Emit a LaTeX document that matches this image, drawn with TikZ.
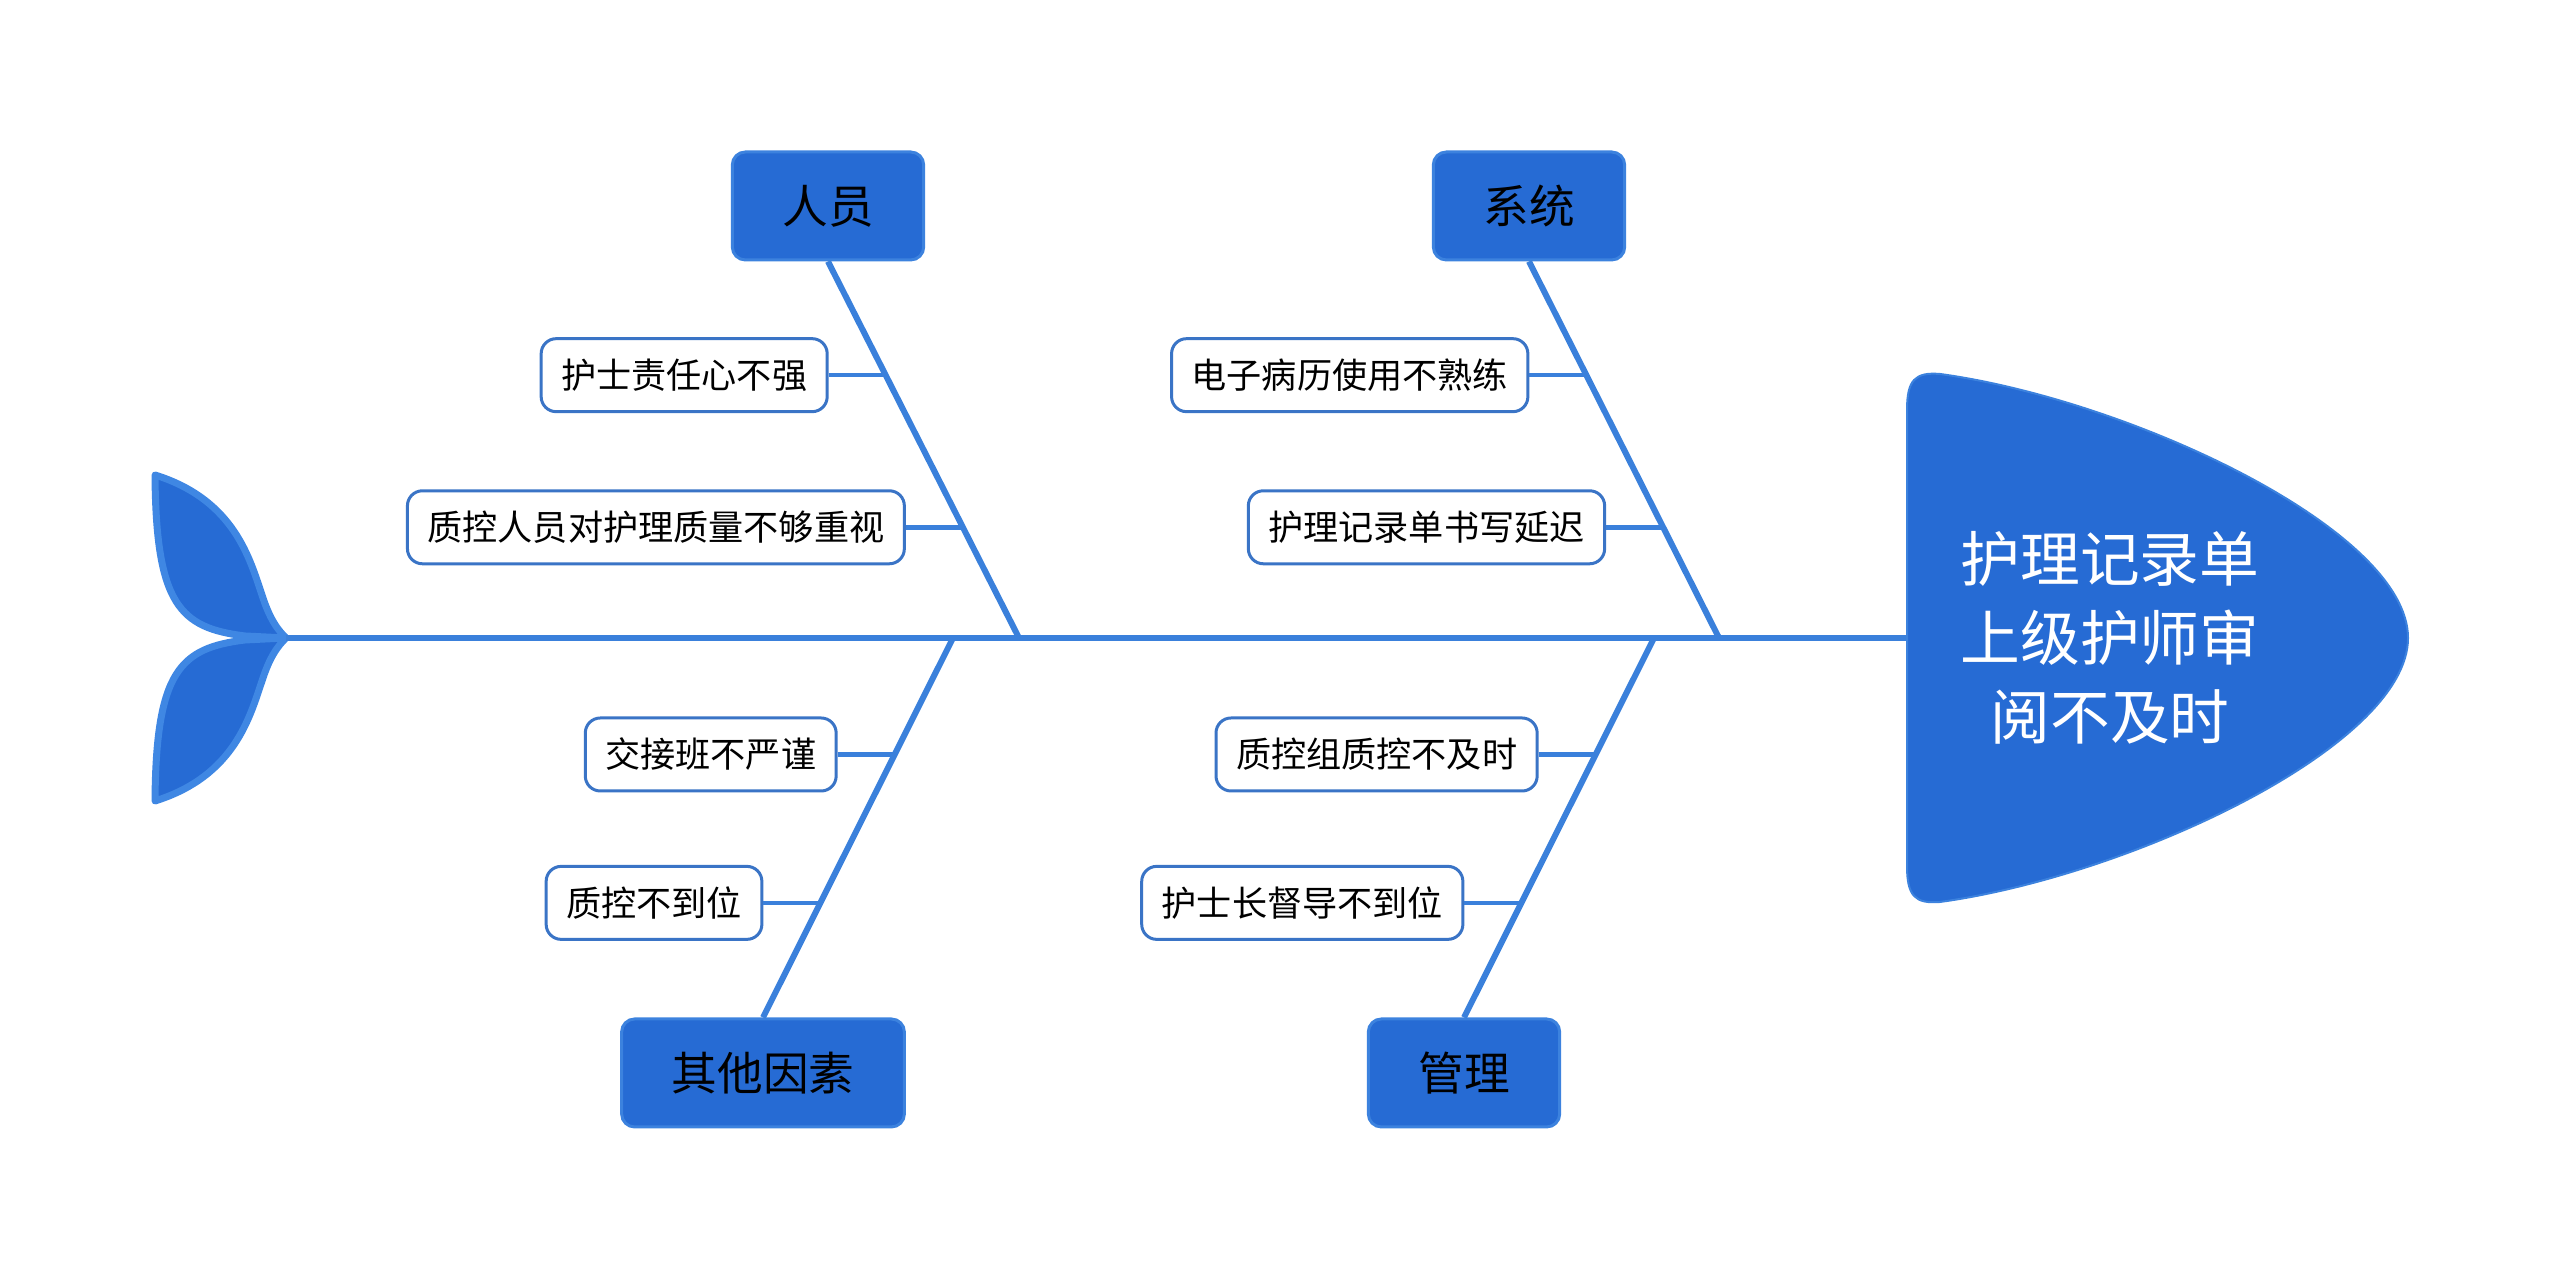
\documentclass[tikz,border=0pt]{standalone}
\usepackage{fontspec}
\newfontfamily\cjk{Noto Sans CJK SC}
\usetikzlibrary{positioning,calc}
\definecolor{boneblue}{HTML}{3A80DB}
\definecolor{capblue}{HTML}{266BD4}
\definecolor{capedge}{HTML}{3C82DE}
\definecolor{leafedge}{HTML}{3A74C6}
\definecolor{finedge}{HTML}{3F87E3}

\begin{document}
\begin{tikzpicture}[node distance=5.7mm,
    cause/.style={draw=capedge, fill=capblue, line width=0.3mm, rounded corners=1.3mm, minimum width=19.1mm, minimum height=10.8mm, inner xsep=5mm, font=\cjk\fontsize{13}{13}\selectfont},
    detail/.style={draw=leafedge, fill=white, line width=0.3mm, rounded corners=1.5mm, minimum height=7.3mm, inner xsep=2mm, font=\cjk\fontsize{10}{10}\selectfont},
    bone/.style={draw=boneblue, line width=0.6mm},
    twig/.style={draw=boneblue, line width=0.45mm}]
  \useasboundingbox (0,0) rectangle (25.6,12.8);
  % tail
  \foreach \s in {1,-1}
    \draw[fill=capblue, draw=finedge, line width=0.7mm, line join=round, shift={(0,6.42)}, yscale=\s]
      (2.86,0) .. controls (2.78,0.08) and (2.7,0.18) .. (2.62,0.43)
      .. controls (2.5,0.78) and (2.35,1.38) .. (1.55,1.63)
      .. controls (1.56,0.33) and (1.8,0.10) .. (2.45,0.02) -- cycle;
  % spine
  \coordinate (tail) at (2.86,6.42);
  \coordinate (head) at (19.07,6.42);
  \draw[bone] (tail) -- (head);
  % head
  \draw[fill=capblue, draw=capedge, line width=0.2mm]
    (19.07,6.42) -- (19.07,8.70) .. controls (19.07,9.0) and (19.15,9.08) .. (19.40,9.06)
    .. controls (21.3,8.8) and (24.08,7.5) .. (24.08,6.42)
    .. controls (24.08,5.34) and (21.3,4.04) .. (19.40,3.78)
    .. controls (19.15,3.76) and (19.07,3.84) .. (19.07,4.14) -- cycle;
  \node[text=white, align=center, font=\cjk\fontsize{17}{22.5}\selectfont] (wenti) at (21.10,6.42) {护理记录单\\上级护师审\\阅不及时};
  % causes
  \node[cause] (renyuan) at (8.28,10.74) {人员};
  \node[cause] (xitong) at (15.29,10.74) {系统};
  \node[cause] (qita) at (7.63,2.07) {其他因素};
  \node[cause] (guanli) at (14.64,2.07) {管理};
  \coordinate (r1) at (10.19,6.42);
  \coordinate (x1) at (17.19,6.42);
  \coordinate (q1) at (9.53,6.42);
  \coordinate (g1) at (16.54,6.42);
  \draw[bone] (renyuan.south) -- (r1);
  \draw[bone] (xitong.south) -- (x1);
  \draw[bone] (qita.north) -- (q1);
  \draw[bone] (guanli.north) -- (g1);
  % details
  \coordinate (b1) at ($(renyuan.south)!0.302!(r1)$);
  \coordinate (b2) at ($(renyuan.south)!0.706!(r1)$);
  \coordinate (b3) at ($(xitong.south)!0.302!(x1)$);
  \coordinate (b4) at ($(xitong.south)!0.706!(x1)$);
  \coordinate (b5) at ($(qita.north)!0.693!(q1)$);
  \coordinate (b6) at ($(qita.north)!0.302!(q1)$);
  \coordinate (b7) at ($(guanli.north)!0.693!(g1)$);
  \coordinate (b8) at ($(guanli.north)!0.302!(g1)$);
  \node[detail, left=of b1] (zeren) {护士责任心不强};
  \node[detail, left=of b2] (zhongshi) {质控人员对护理质量不够重视};
  \node[detail, left=of b3] (dianzi) {电子病历使用不熟练};
  \node[detail, left=of b4] (yanchi) {护理记录单书写延迟};
  \node[detail, left=of b5] (jiaojie) {交接班不严谨};
  \node[detail, left=of b6] (zhikong) {质控不到位};
  \node[detail, left=of b7] (jishi) {质控组质控不及时};
  \node[detail, left=of b8] (dudao) {护士长督导不到位};
  \draw[twig] (zeren.east) -- (b1);
  \draw[twig] (zhongshi.east) -- (b2);
  \draw[twig] (dianzi.east) -- (b3);
  \draw[twig] (yanchi.east) -- (b4);
  \draw[twig] (jiaojie.east) -- (b5);
  \draw[twig] (zhikong.east) -- (b6);
  \draw[twig] (jishi.east) -- (b7);
  \draw[twig] (dudao.east) -- (b8);
\end{tikzpicture}
\end{document}
